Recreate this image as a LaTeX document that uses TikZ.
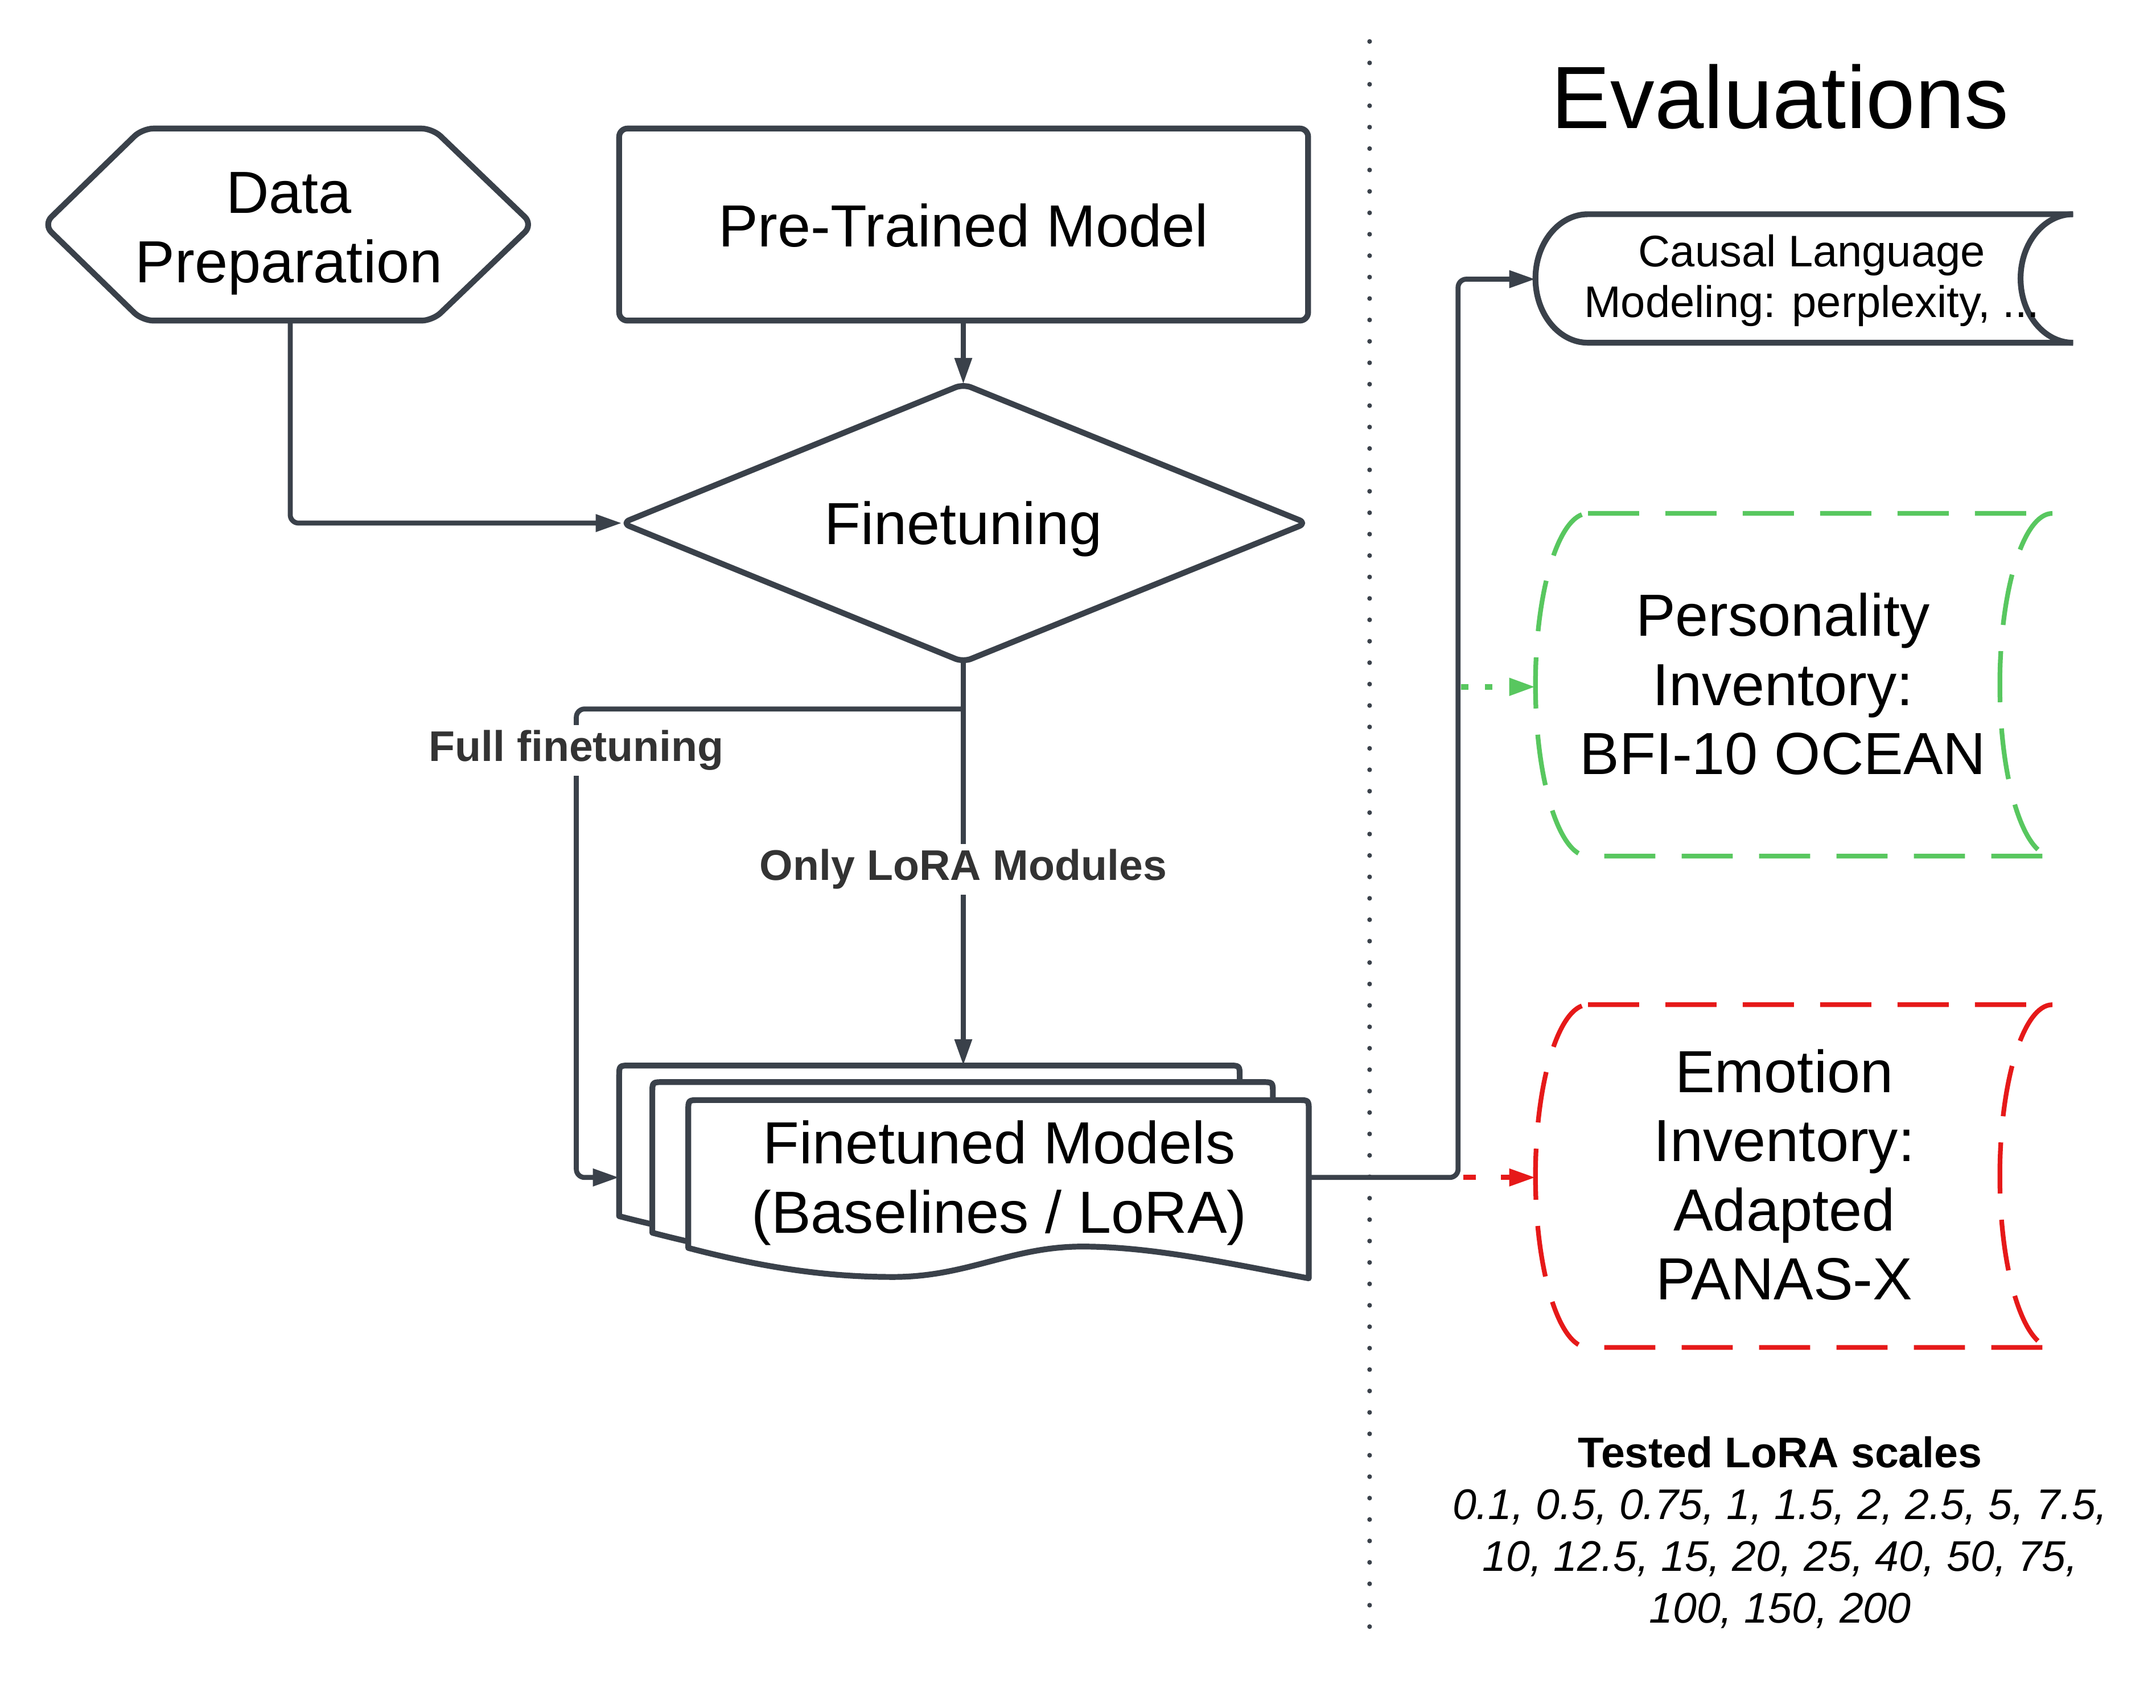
\documentclass[tikz,border=0pt]{standalone}
\usepackage{fontspec}
\setmainfont{Liberation Sans}
\usetikzlibrary{arrows.meta}
\definecolor{ink}{RGB}{58,65,74}
\definecolor{evgreen}{RGB}{88,199,95}
\definecolor{evred}{RGB}{230,25,25}
\definecolor{lbl}{RGB}{51,51,51}
\newcommand\stackdoc[4]{%
  \filldraw[shapeline, fill=white] (#1,#4) -- (#1,#3+8) .. controls (#1,#3) .. (#1+8,#3) -- (#2-8,#3) .. controls (#2,#3) .. (#2,#3+8) -- (#2,#4+22)
   .. controls ({#1+0.88*(#2-#1)},#4+12) and ({#1+0.75*(#2-#1)},#4-1) .. ({#1+0.635*(#2-#1)},#4-1)
   .. controls ({#1+0.52*(#2-#1)},#4-1) and ({#1+0.45*(#2-#1)},#4+21) .. ({#1+0.33*(#2-#1)},#4+21)
   .. controls ({#1+0.22*(#2-#1)},#4+21) and ({#1+0.12*(#2-#1)},#4+14) .. (#1,#4) -- cycle;}
\begin{document}
\begin{tikzpicture}[x=0.5pt,y=-0.5pt,
  shapeline/.style={draw=ink, line width=2.1pt, line join=round},
  conn/.style={draw=ink, line width=1.8pt, rounded corners=3pt, -{Triangle[length=9.5pt,width=6pt]}},
  greenconn/.style={draw=evgreen, line width=2pt, dash pattern=on 2.75pt off 6pt, -{Triangle[length=9.5pt,width=6pt,fill=evgreen]}},
  redconn/.style={draw=evred, line width=1.8pt, dash pattern=on 4.5pt off 9pt, -{Triangle[length=9.5pt,width=6pt,fill=evred]}},
  greenshape/.style={draw=evgreen, line width=1.7pt, dash pattern=on 18.5pt off 9.5pt},
  redshape/.style={draw=evred, line width=1.7pt, dash pattern=on 18.5pt off 9.5pt},
  maintxt/.style={font=\fontsize{21.5}{25}\selectfont, align=center, text=black, inner sep=0pt},
  smalltxt/.style={font=\fontsize{16}{18.5}\selectfont, align=center, text=black, inner sep=0pt},
  edgelbl/.style={font=\fontsize{15.5}{18}\selectfont\bfseries, text=lbl, fill=white, inner sep=2pt},
  titletxt/.style={font=\fontsize{32}{38}\selectfont, text=black, inner sep=0pt},
  scaletxt/.style={font=\fontsize{15.5}{18.75}\selectfont, align=center, text=black, inner sep=0pt}
]
\useasboundingbox (0,0) rectangle (1560,1235.5);
\fill[white] (0,0) rectangle (1560,1235.5);

% separator
\draw[ink, line width=1.7pt, line cap=round, dash pattern=on 0pt off 7.75pt] (991,30) -- (991,1180);

% Data preparation hexagon
\draw[shapeline, rounded corners=4pt] (208,93) -- (313,93) -- (385.5,162.5) -- (313,232) -- (103,232) -- (31.5,162.5) -- (103,93) -- cycle;
\node[maintxt] (dataprep) at (209,169) {Data\\Preparation};
\coordinate (dp-s) at (210,232);

% Pre-trained model
\draw[shapeline, rounded corners=3pt] (448,93) rectangle (946.5,232);
\node[maintxt] (ptm) at (697,163) {Pre-Trained Model};
\coordinate (ptm-s) at (697,232);

% Finetuning diamond
\draw[shapeline, rounded corners=3pt] (573.5,328.25) -- (697,278) -- (945.5,378.5) -- (697,479) -- (450,378.5) -- cycle;
\node[maintxt] (ft) at (697,383) {Finetuning};
\coordinate (ft-n) at (697,278);
\coordinate (ft-w) at (450,378.5);
\coordinate (ft-s) at (697,479);
\coordinate (br) at (697,513);
\coordinate (fullmid) at (417,700);

% Finetuned model stack
\stackdoc{448}{897}{771}{880}
\stackdoc{472}{921}{783}{892}
\stackdoc{498}{947}{796}{903}
\node[maintxt] (ftm) at (723,856) {Finetuned Models\\(Baselines / LoRA)};
\coordinate (docs-n) at (697,771);
\coordinate (docs-w) at (448,852);
\coordinate (docs-e) at (947,852);
\coordinate (bus) at (1055,500);
\coordinate (bus-g) at (1057,497);
\coordinate (bus-r) at (1059,852);

% Evaluations
\node[titletxt] (evaltitle) at (1288,70) {Evaluations};

% Causal LM (stored data shape)
\filldraw[shapeline, fill=white] (1500,155) -- (1149,155) .. controls (1128,155) and (1111,175.8) .. (1111,201.5) .. controls (1111,227.2) and (1128,248) .. (1149,248) -- (1500,248);
\draw[shapeline] (1500,155) .. controls (1479,155) and (1462,175.8) .. (1462,201.5) .. controls (1462,227.2) and (1479,248) .. (1500,248);
\node[smalltxt] (clm) at (1311,203) {Causal Language\\Modeling: perplexity, ...};
\coordinate (clm-w) at (1111,202);

% Personality inventory
\draw[greenshape] (1149,371.5) -- (1485,371.5) .. controls (1464,371.5) and (1447,427) .. (1447,495.5) .. controls (1447,564) and (1464,619.5) .. (1485,619.5) -- (1149,619.5) .. controls (1128,619.5) and (1111,564) .. (1111,495.5) .. controls (1111,427) and (1128,371.5) .. cycle;
\node[maintxt] (pi) at (1290,495) {Personality\\Inventory:\\BFI-10 OCEAN};
\coordinate (pi-w) at (1111,497);

% Emotion inventory
\draw[redshape] (1149,727) -- (1485,727) .. controls (1464,727) and (1447,782.5) .. (1447,851) .. controls (1447,919.5) and (1464,975) .. (1485,975) -- (1149,975) .. controls (1128,975) and (1111,919.5) .. (1111,851) .. controls (1111,782.5) and (1128,727) .. cycle;
\node[maintxt] (ei) at (1291,850) {Emotion\\Inventory:\\Adapted\\PANAS-X};
\coordinate (ei-w) at (1111,852);

% Connectors
\draw[conn] (ptm-s) -- (ft-n);
\draw[conn] (dp-s) |- (ft-w);
\draw[conn] (ft-s) -- (docs-n);
\draw[conn] (br) -| (fullmid) |- (docs-w);
\draw[conn] (docs-e) -| (bus) |- (clm-w);
\draw[greenconn] (bus-g) -- (pi-w);
\draw[redconn] (bus-r) -- (ei-w);

% Edge labels
\node[edgelbl] (lblfull) at (417,543) {Full finetuning};
\node[edgelbl] (lbllora) at (697,629) {Only LoRA Modules};

% Tested scales
\node[scaletxt] (scales) at (1288,1109) {\textbf{Tested LoRA scales}\\\textit{0.1, 0.5, 0.75, 1, 1.5, 2, 2.5, 5, 7.5,}\\\textit{10, 12.5, 15, 20, 25, 40, 50, 75,}\\\textit{100, 150, 200}};
\end{tikzpicture}
\end{document}
